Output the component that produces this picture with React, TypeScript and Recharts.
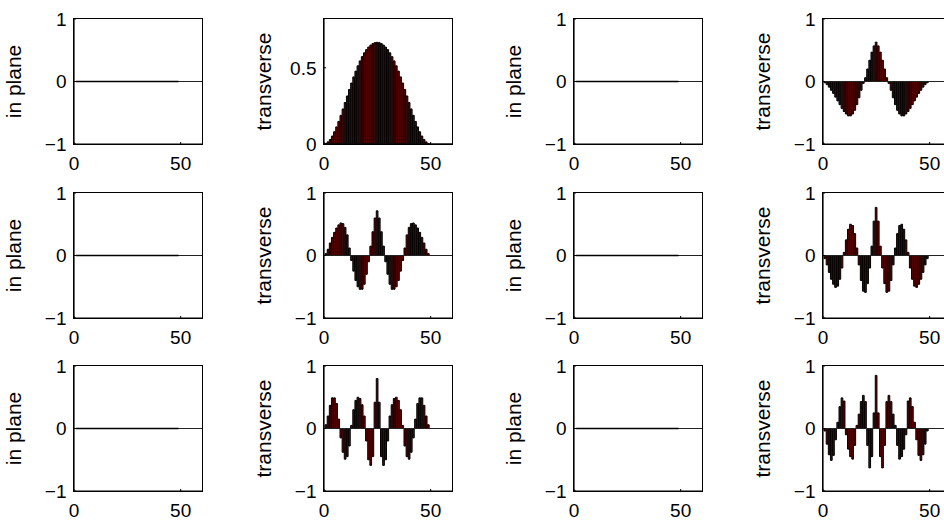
import { ComposedChart, Bar, Line, XAxis, YAxis, ReferenceLine } from "recharts";

// element index along the chain
const positions = [
  1, 2, 3, 4, 5, 6, 7, 8, 9, 10, 11, 12, 13, 14, 15, 16, 17, 18, 19, 20, 21, 22, 23, 24, 25,
  26, 27, 28, 29, 30, 31, 32, 33, 34, 35, 36, 37, 38, 39, 40, 41, 42, 43, 44, 45, 46, 47, 48, 49,
];

// in-plane displacement is zero for every mode
const inPlane = [
  0, 0, 0, 0, 0, 0, 0, 0, 0, 0, 0, 0, 0, 0, 0, 0, 0, 0, 0, 0, 0, 0, 0, 0, 0,
  0, 0, 0, 0, 0, 0, 0, 0, 0, 0, 0, 0, 0, 0, 0, 0, 0, 0, 0, 0, 0, 0, 0, 0,
];

// transverse mode shapes
const mode1 = [
  0.004, 0.014, 0.03, 0.052, 0.08, 0.112, 0.148, 0.188, 0.23, 0.272, 0.315, 0.358, 0.4, 0.44,
  0.478, 0.513, 0.545, 0.573, 0.598, 0.619, 0.636, 0.649, 0.659, 0.665, 0.667,
  0.665, 0.659, 0.649, 0.636, 0.619, 0.598, 0.573, 0.545, 0.513, 0.478, 0.44, 0.4, 0.358,
  0.315, 0.272, 0.23, 0.188, 0.148, 0.112, 0.08, 0.052, 0.03, 0.014, 0.004,
];
const mode2 = [
  -0.02, -0.05, -0.09, -0.14, -0.19, -0.25, -0.31, -0.37, -0.43, -0.48, -0.52, -0.55, -0.55,
  -0.52, -0.46, -0.37, -0.26, -0.14, -0.03, 0.06, 0.2, 0.34, 0.47, 0.57, 0.63,
  0.57, 0.47, 0.34, 0.2, 0.06, -0.03, -0.14, -0.26, -0.37, -0.46, -0.52, -0.55, -0.55,
  -0.52, -0.48, -0.43, -0.37, -0.31, -0.25, -0.19, -0.14, -0.09, -0.05, -0.02,
];
const mode3 = [
  0.03, 0.1, 0.2, 0.29, 0.37, 0.44, 0.49, 0.52, 0.51, 0.45, 0.33, 0.12, -0.08, -0.25, -0.4,
  -0.5, -0.54, -0.54, -0.46, -0.3, -0.1, 0.15, 0.38, 0.6, 0.715,
  0.6, 0.38, 0.15, -0.1, -0.3, -0.46, -0.54, -0.54, -0.5, -0.4, -0.25, -0.08, 0.12, 0.33,
  0.45, 0.51, 0.52, 0.49, 0.44, 0.37, 0.29, 0.2, 0.1, 0.03,
];
const mode4 = [
  -0.05, -0.15, -0.27, -0.38, -0.46, -0.51, -0.49, -0.38, -0.2, 0.05, 0.25, 0.42, 0.5, 0.48,
  0.35, 0.12, -0.15, -0.4, -0.57, -0.59, -0.45, -0.2, 0.15, 0.55, 0.77,
  0.55, 0.15, -0.2, -0.45, -0.59, -0.57, -0.4, -0.15, 0.12, 0.35, 0.48, 0.5, 0.42, 0.25,
  0.05, -0.2, -0.38, -0.49, -0.51, -0.46, -0.38, -0.27, -0.15, -0.05,
];
const mode5 = [
  0.06, 0.2, 0.37, 0.49, 0.49, 0.4, 0.15, -0.15, -0.38, -0.49, -0.45, -0.28, 0.05, 0.3,
  0.45, 0.5, 0.48, 0.38, 0.2, -0.2, -0.5, -0.59, -0.45, 0.42, 0.8,
  0.42, -0.45, -0.59, -0.5, -0.2, 0.2, 0.38, 0.48, 0.5, 0.45, 0.3, 0.05, -0.28, -0.45,
  -0.49, -0.38, -0.15, 0.15, 0.4, 0.49, 0.49, 0.37, 0.2, 0.06,
];
const mode6 = [
  -0.04, -0.25, -0.42, -0.51, -0.43, -0.18, 0.1, 0.35, 0.49, 0.44, -0.1, -0.33, -0.45,
  -0.49, -0.27, 0.05, 0.23, 0.43, 0.53, 0.43, -0.27, -0.63, -0.45, 0.25, 0.85,
  0.25, -0.45, -0.63, -0.27, 0.43, 0.53, 0.43, 0.23, 0.05, -0.27, -0.49, -0.45, -0.33,
  -0.1, 0.44, 0.49, 0.35, 0.1, -0.18, -0.43, -0.51, -0.42, -0.25, -0.04,
];

const xTicks = [0, 50];
const fullTicks = [-1, 0, 1];
const firstTicks = [0, 0.5];

// plot-area placement of the 3x4 grid
const COL_LEFT = [74, 324, 574, 823];
const ROW_TOP = [19, 193, 366];
const PLOT_W = 128;
const PLOT_H = 125;
const AXIS_W = 80;
const PAD = 12;
const XAXIS_H = 40;

const FONT = "'Liberation Sans', Arial, Helvetica, sans-serif";
const fmt = (v: number) => (v < 0 ? "\u2212" + Math.abs(v) : String(v));

const axisStroke = { stroke: "#000", strokeWidth: 1.2 };

interface PanelProps {
  left: number;
  top: number;
  label: string;
  values: number[];
  domain: [number, number];
  ticks: number[];
  bars: boolean;
}

const Panel = ({ left, top, label, values, domain, ticks, bars }: PanelProps) => {
  const data = positions.map((n, i) => ({ n, v: values[i] }));
  return (
    <>
      <div style={{ position: "absolute", left: left - AXIS_W, top: top - PAD }}>
        <ComposedChart
          width={AXIS_W + PLOT_W + PAD}
          height={PAD + PLOT_H + XAXIS_H}
          data={data}
          margin={{ top: PAD, right: PAD, bottom: 0, left: 0 }}
          style={{ fontFamily: FONT }}
        >
          <XAxis
            dataKey="n"
            type="number"
            domain={[0, 60]}
            ticks={xTicks}
            interval={0}
            height={XAXIS_H}
            tickSize={-2}
            tickMargin={15}
            tick={{ fill: "#000", fontSize: 19 }}
            axisLine={axisStroke}
            tickLine={{ stroke: "#000" }}
          />
          <YAxis
            type="number"
            domain={domain}
            ticks={ticks}
            interval={0}
            width={AXIS_W}
            tickSize={-2}
            tickMargin={9.5}
            tickFormatter={fmt}
            tick={{ fill: "#000", fontSize: 19 }}
            axisLine={axisStroke}
            tickLine={{ stroke: "#000" }}
            label={{
              value: label,
              angle: -90,
              position: "insideLeft",
              offset: 20,
              style: { textAnchor: "middle", fontSize: 21, fill: "#000" },
            }}
          />
          <ReferenceLine y={0} stroke="#222" strokeWidth={1} />
          {bars ? (
            <Bar
              dataKey="v"
              barSize={1.7}
              fill="#6e0000"
              stroke="#000"
              strokeWidth={1}
              isAnimationActive={false}
            />
          ) : (
            <Line
              dataKey="v"
              type="linear"
              stroke="#000"
              strokeWidth={1.4}
              dot={false}
              isAnimationActive={false}
            />
          )}
        </ComposedChart>
      </div>
      {/* axes box (top and right edges) */}
      <div
        style={{
          position: "absolute",
          left: left - 0.6,
          top: top - 0.6,
          width: PLOT_W + 1.2,
          height: PLOT_H + 1.2,
          boxSizing: "border-box",
          border: "1.2px solid #000",
          pointerEvents: "none",
        }}
      />
    </>
  );
};

const transverseByRow = [
  [mode1, mode2],
  [mode3, mode4],
  [mode5, mode6],
];

export default function App() {
  const panels: PanelProps[] = [];
  ROW_TOP.forEach((top, r) => {
    COL_LEFT.forEach((left, c) => {
      const transverse = c % 2 === 1;
      const isFirst = r === 0 && c === 1;
      panels.push({
        left,
        top,
        label: transverse ? "transverse" : "in plane",
        values: transverse ? transverseByRow[r][(c - 1) / 2] : inPlane,
        domain: isFirst ? [0, 0.82] : [-1, 1],
        ticks: isFirst ? firstTicks : fullTicks,
        bars: transverse,
      });
    });
  });

  return (
    <div
      style={{
        position: "absolute",
        left: 0,
        top: 0,
        width: 944,
        height: 521,
        overflow: "hidden",
        background: "#fff",
      }}
    >
      {panels.map((p, i) => (
        <Panel key={i} {...p} />
      ))}
    </div>
  );
}
